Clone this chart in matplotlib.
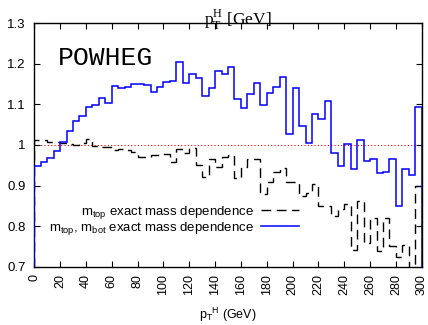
import matplotlib
matplotlib.use('Agg')
import matplotlib.pyplot as plt
import numpy as np

plt.rcParams['font.family'] = ['Liberation Sans', 'DejaVu Sans']

# pT bins (GeV), 5 GeV wide
bin_edges = np.arange(0, 305, 5)

# ratio, m_top exact mass dependence (dashed)
ratio_mtop = [1.012, 1.012, 1.008, 1.008, 1.005, 1.003, 1.001, 1.006, 1.016, 0.997,
              0.996, 0.994, 0.988, 0.990, 0.988, 0.983, 0.971, 0.971, 0.975, 0.975,
              0.978, 0.958, 0.990, 0.980, 0.992, 0.950, 0.920, 0.965, 0.945, 0.970,
              0.975, 0.918, 0.945, 0.966, 0.966, 0.879, 0.909, 0.933, 0.943, 0.908,
              0.908, 0.875, 0.881, 0.903, 0.849, 0.849, 0.825, 0.842, 0.855, 0.741,
              0.861, 0.758, 0.819, 0.738, 0.819, 0.752, 0.723, 0.753, 0.680, 0.900]

# ratio, m_top + m_bot exact mass dependence (blue)
ratio_mtop_mbot = [0.948, 0.958, 0.969, 0.985, 1.008, 1.035, 1.058, 1.072, 1.093, 1.099,
                   1.115, 1.103, 1.146, 1.141, 1.144, 1.150, 1.151, 1.148, 1.130, 1.144,
                   1.155, 1.158, 1.204, 1.154, 1.176, 1.166, 1.122, 1.140, 1.182, 1.175,
                   1.192, 1.114, 1.091, 1.125, 1.153, 1.099, 1.127, 1.142, 1.167, 1.026,
                   1.141, 1.048, 1.004, 1.077, 1.063, 1.109, 0.981, 0.949, 1.003, 0.940,
                   1.013, 0.960, 0.965, 0.932, 0.933, 0.965, 0.849, 0.942, 0.925, 1.094]

ref_level = 1.0
x_ticks = np.arange(0, 301, 20)
y_ticks = [0.7, 0.8, 0.9, 1.0, 1.1, 1.2, 1.3]
y_tick_labels = ['0.7', '0.8', '0.9', '1', '1.1', '1.2', '1.3']

fig = plt.figure(figsize=(4.28, 3.25), dpi=100)
ax = fig.add_axes([0.080, 0.1794, 0.9055, 0.7489])

ax.axhline(ref_level, color='red', ls=(0, (1, 2)), lw=0.8, zorder=1)
ax.stairs(ratio_mtop, bin_edges, baseline=0.7, color='black', lw=1.0,
          ls=(0, (7, 4)), label=r'm$_\mathregular{top}$ exact mass dependence')
ax.stairs(ratio_mtop_mbot, bin_edges, baseline=0.7, color='blue', lw=1.1, zorder=3,
          label=r'm$_\mathregular{top}$, m$_\mathregular{bot}$ exact mass dependence')

ax.set_xlim(0, 300)
ax.set_ylim(0.7, 1.3)
ax.set_xticks(x_ticks)
ax.set_yticks(y_ticks)
ax.set_yticklabels(y_tick_labels)
ax.tick_params(direction='in', top=True, right=True, length=4, width=0.8,
               labelsize=9.5, colors='black')
ax.tick_params(axis='y', pad=6)
ax.tick_params(axis='x', rotation=90, pad=5, labelsize=9)
for s in ax.spines.values():
    s.set_linewidth(1.0)

ax.set_xlabel(r'p$_\mathregular{T}$$^\mathregular{H}$ (GeV)', fontsize=9, labelpad=8)

ax.text(0.526, 0.995, r'p$_\mathregular{T}^\mathregular{H}$ [GeV]', transform=ax.transAxes,
        ha='center', va='baseline', family='Liberation Serif', fontsize=12.5)
ax.text(0.062, 0.829, 'POWHEG', transform=ax.transAxes, ha='left', va='baseline',
        family='Liberation Mono', fontsize=19)

ax.legend(loc='center right', bbox_to_anchor=(0.683, 0.19), frameon=False,
          markerfirst=False, fontsize=9.5, handlelength=2.9, handletextpad=0.5,
          labelspacing=-0.1, borderpad=0, borderaxespad=0)

fig.savefig('out.png', dpi=100)
